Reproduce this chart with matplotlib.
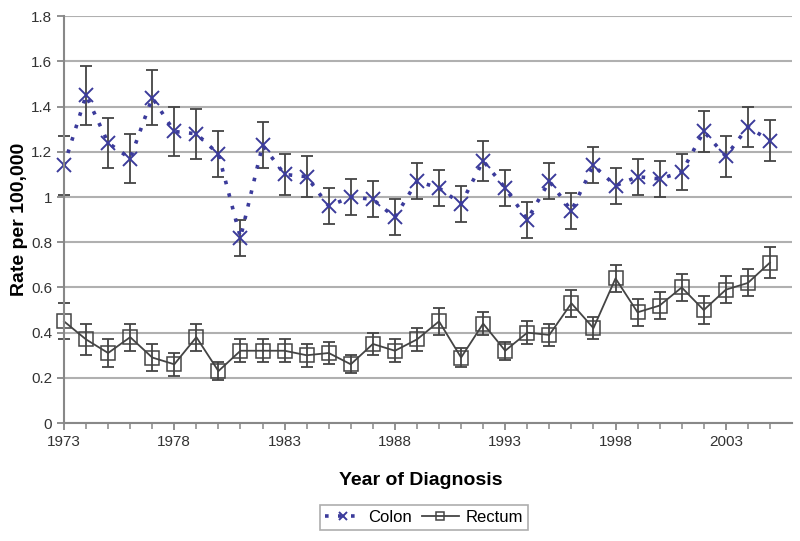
import numpy as np
import matplotlib.pyplot as plt

plt.rcParams['font.family'] = ['Liberation Sans', 'DejaVu Sans']

years = np.arange(1973, 2006)

colon = [1.14, 1.45, 1.24, 1.17, 1.44, 1.29, 1.28, 1.19, 0.82, 1.23,
         1.10, 1.09, 0.96, 1.00, 0.99, 0.91, 1.07, 1.04, 0.97, 1.16,
         1.04, 0.90, 1.07, 0.94, 1.14, 1.05, 1.09, 1.08, 1.11, 1.29,
         1.18, 1.31, 1.25]
colon_err = [0.13, 0.13, 0.11, 0.11, 0.12, 0.11, 0.11, 0.10, 0.08, 0.10,
             0.09, 0.09, 0.08, 0.08, 0.08, 0.08, 0.08, 0.08, 0.08, 0.09,
             0.08, 0.08, 0.08, 0.08, 0.08, 0.08, 0.08, 0.08, 0.08, 0.09,
             0.09, 0.09, 0.09]

rectum = [0.45, 0.37, 0.31, 0.38, 0.29, 0.26, 0.38, 0.23, 0.32, 0.32,
          0.32, 0.30, 0.31, 0.26, 0.35, 0.32, 0.37, 0.45, 0.29, 0.44,
          0.32, 0.40, 0.39, 0.53, 0.42, 0.64, 0.49, 0.52, 0.60, 0.50,
          0.59, 0.62, 0.71]
rectum_err = [0.08, 0.07, 0.06, 0.06, 0.06, 0.05, 0.06, 0.04, 0.05, 0.05,
              0.05, 0.05, 0.05, 0.04, 0.05, 0.05, 0.05, 0.06, 0.04, 0.05,
              0.04, 0.05, 0.05, 0.06, 0.05, 0.06, 0.06, 0.06, 0.06, 0.06,
              0.06, 0.06, 0.07]

year_labels = [1973, 1978, 1983, 1988, 1993, 1998, 2003]

fig = plt.figure(figsize=(8, 5.41), dpi=100)
ax = fig.add_axes([0.08, 0.218, 0.91, 0.752])

# error bars first, then the lines on top
ax.errorbar(years, colon, yerr=colon_err, fmt='none', ecolor='#444444',
            elinewidth=1.3, capsize=4, capthick=1.3, clip_on=False)
ax.errorbar(years, rectum, yerr=rectum_err, fmt='none', ecolor='#444444',
            elinewidth=1.3, capsize=4, capthick=1.3, clip_on=False)
ax.plot(years, colon, color='#3b3b9b', ls=(0, (1.0, 2.6)), lw=2.6,
        marker='x', ms=10, mew=1.4, label='Colon', clip_on=False)
ax.plot(years, rectum, color='#444444', ls='-', lw=1.3, marker='s', ms=10,
        mfc='none', mec='#444444', mew=1.1, label='Rectum', clip_on=False)

ax.set_xlim(1973, 2006)
ax.set_ylim(0, 1.8)
ax.set_yticks(np.arange(0, 1.81, 0.2))
ax.set_yticklabels(['0', '0.2', '0.4', '0.6', '0.8', '1', '1.2', '1.4', '1.6', '1.8'])
ax.set_xticks(year_labels)
ax.set_xticks(years, minor=True)
ax.grid(axis='y', color='#b0b0b0', lw=1.5)
ax.set_axisbelow(True)

for s in ['top', 'right']:
    ax.spines[s].set_visible(False)
for s in ['left', 'bottom']:
    ax.spines[s].set_color('#888888')
    ax.spines[s].set_linewidth(1.5)
ax.tick_params(axis='both', colors='#888888', labelcolor='#333333',
               labelsize=11, width=1.3, length=5)
ax.tick_params(axis='x', which='minor', colors='#888888', length=4, width=1.1)

ax.set_xlabel('Year of Diagnosis', fontsize=14, fontweight='bold')
ax.set_ylabel('Rate per 100,000', fontsize=14, fontweight='bold')
ax.xaxis.set_label_coords(0.49, -0.12)
ax.yaxis.set_label_coords(-0.049, 0.5)

leg = fig.legend(loc='center', bbox_to_anchor=(0.53, 0.043), ncol=2,
                 fontsize=12, frameon=True, fancybox=False, edgecolor='#999999',
                 handlelength=2.2, columnspacing=0.6, handletextpad=0.4,
                 borderpad=0.3, markerscale=0.6)
leg.get_frame().set_linewidth(1.2)

fig.savefig('out.png', dpi=100)
